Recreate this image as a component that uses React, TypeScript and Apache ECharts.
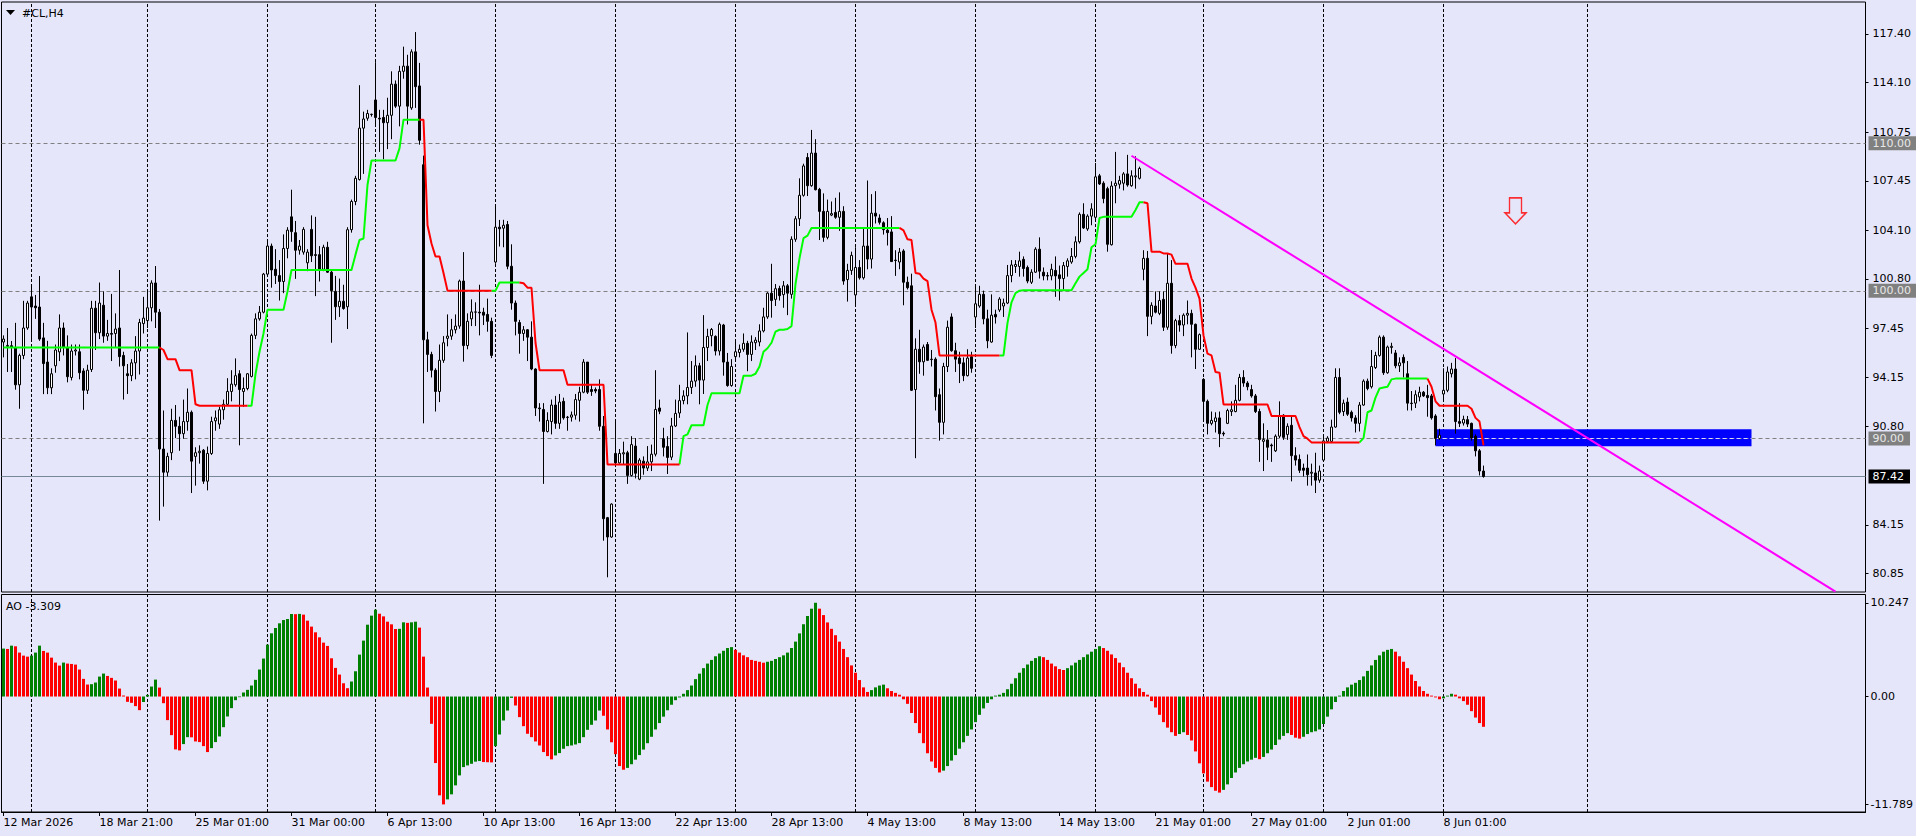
import React, { useEffect, useRef } from "react";
import * as echarts from "echarts";

const chartTitle = "#CL,H4";
const aoTitle = "AO -3.309";
const slotCount = 466;
const labelStep = 24;
const timeLabels = [
  "12 Mar 2026", "18 Mar 21:00", "25 Mar 01:00", "31 Mar 00:00", "6 Apr 13:00", "10 Apr 13:00",
  "16 Apr 13:00", "22 Apr 13:00", "28 Apr 13:00", "4 May 13:00", "8 May 13:00", "14 May 13:00",
  "21 May 01:00", "27 May 01:00", "2 Jun 01:00", "8 Jun 01:00",
];
const priceTicks = [117.4, 114.1, 110.75, 107.45, 104.1, 100.8, 97.45, 94.15, 90.8, 84.15, 80.85];
const aoTicks = [10.247, 0, -11.789];
const priceRange = [79.594, 119.566];
const aoRange = [-12.62, 11.15];
const weekLines = [7, 36, 66, 93, 123, 153, 183, 213, 243, 273, 300, 330, 360, 396];
const roundLevels = [110, 100, 90];
const bidPrice = 87.42;
const trendLine = [[282, 109.15], [458, 79.62]];
const zoneBox = [[358, 90.62], [437, 89.47]];
const arrowPoint = [378, 105.41];

// [open, close, low, high]
const candles = [
  [96.53,96.73,95.49,96.98],[96.24,96.30,94.50,97.48],[96.28,96.16,94.50,96.60],[96.16,93.63,93.30,97.83],[93.63,95.62,92.01,95.74],
  [95.62,97.48,95.37,99.32],[97.48,99.17,97.36,99.32],[99.59,98.90,96.61,100.46],[98.97,98.85,98.10,99.72],[98.90,96.73,96.61,101.00],
  [96.81,95.07,93.00,97.83],[95.17,93.43,93.00,96.61],[93.43,94.38,93.00,94.75],[94.92,95.99,94.45,96.36],[95.86,97.48,95.24,98.40],
  [97.48,96.16,95.62,97.85],[96.16,94.18,93.80,96.98],[94.13,95.92,93.93,96.36],[95.92,95.99,95.62,96.36],[95.87,94.45,94.00,96.36],
  [94.57,93.26,91.94,94.75],[93.26,94.62,93.01,94.99],[94.67,98.82,94.50,99.32],[98.82,97.16,95.99,99.32],[97.16,99.17,96.73,100.56],
  [99.02,96.93,96.48,99.96],[96.93,97.11,96.61,98.03],[97.11,97.06,95.24,99.79],[97.11,97.41,96.16,98.47],[97.48,95.54,94.87,101.41],
  [95.62,94.92,92.63,95.87],[94.38,94.25,93.01,95.04],[94.25,95.12,93.88,95.37],[95.12,95.92,94.00,96.93],[95.92,97.85,94.33,98.10],
  [97.78,98.15,97.11,99.59],[97.98,98.85,97.48,99.96],[98.85,100.53,97.93,100.71],[100.53,98.55,97.48,101.68],[98.55,89.28,84.43,98.77],
  [89.28,87.71,85.38,91.89],[87.71,88.78,87.42,89.03],[89.03,91.22,88.53,92.01],[91.22,90.82,90.02,92.26],[90.82,90.32,89.16,91.47],
  [90.32,91.14,89.98,92.63],[91.14,91.77,90.52,93.38],[91.77,88.46,86.30,91.89],[88.78,89.03,86.80,89.40],[89.03,89.13,88.29,89.53],
  [89.20,87.10,86.92,89.28],[87.10,88.98,86.48,89.45],[88.98,91.14,88.88,91.47],[91.19,91.39,90.52,91.89],[90.97,91.94,90.65,92.14],
  [91.94,92.31,91.27,92.63],[92.31,93.18,92.26,94.08],[93.18,93.68,92.51,94.62],[93.63,94.25,93.50,95.42],[94.38,93.31,89.53,94.62],
  [93.18,93.38,92.14,94.13],[93.38,94.38,93.26,94.43],
  [94.20,96.98,94.13,97.10],[96.98,98.10,96.73,98.47],[98.10,98.55,97.98,98.97],[98.55,101.13,98.47,101.21],[101.13,103.03,100.96,103.32],
  [103.03,101.41,100.21,103.20],[101.46,101.03,100.46,102.82],[101.03,100.63,99.34,102.08],[100.63,102.87,99.84,103.82],[102.87,104.11,102.20,104.31],
  [105.01,104.01,103.32,106.85],[103.94,102.75,100.81,104.73],[102.75,103.03,102.45,103.44],[102.62,104.16,102.45,104.31],[101.90,102.62,101.33,102.82],
  [104.16,102.37,101.95,105.11],[102.45,102.40,99.64,105.01],[102.45,101.46,100.63,103.03],[101.46,102.95,101.33,103.12],[102.95,101.26,101.21,103.32],
  [101.26,100.01,96.48,101.46],[99.96,98.92,98.03,101.01],[98.92,99.29,98.23,100.83],[99.29,98.80,98.72,100.41],[98.92,104.14,97.41,104.31],
  [104.14,106.05,103.94,106.18],[106.05,107.62,105.80,107.79],[107.54,111.02,107.47,113.93],[111.02,111.64,107.92,112.14],[111.69,112.01,111.52,112.26],
  [111.94,111.96,111.80,112.00],[112.93,111.74,111.27,115.49],[111.69,111.64,109.41,112.26],[111.74,111.39,108.91,112.26],[111.39,111.89,109.60,113.08],
  [111.89,114.00,110.27,114.87],[114.00,112.51,112.39,114.25],[112.51,114.87,111.14,115.24],[114.87,115.22,114.37,116.54],[115.22,112.51,111.27,115.99],
  [112.39,116.19,112.26,116.36],[116.19,113.83,112.39,117.53],[113.88,110.20,109.90,115.44],[108.54,96.68,91.02,109.16],[96.68,95.69,94.50,97.23],
  [95.69,94.62,94.13,95.87],[94.62,93.18,91.82,94.75],[93.18,95.29,92.46,96.36],[95.29,96.48,95.12,96.93],[96.78,96.93,96.24,98.40],
  [96.93,97.36,96.68,98.10],[97.36,97.61,97.11,98.40],[97.61,100.66,97.43,100.76],[100.66,96.29,95.20,102.62],[96.29,97.93,96.04,98.47],
  [98.10,98.57,97.61,99.42],[98.55,98.57,97.61,99.22],[98.55,98.50,96.98,100.41],[98.55,98.35,97.68,98.85],[98.40,97.93,97.23,99.47],
  [97.93,95.62,95.44,98.18],[101.95,104.31,101.83,105.73],
  [104.31,104.20,103.00,104.80],[104.24,104.44,102.95,104.81],[104.49,101.66,101.46,104.73],[101.66,99.17,98.72,103.15],[99.17,97.93,96.98,99.34],
  [97.85,97.11,95.74,98.03],[97.11,97.36,96.61,97.61],[97.36,96.86,95.24,97.41],[96.86,94.70,94.62,97.93],[94.70,92.06,91.52,94.75],
  [92.06,92.01,91.14,92.39],[91.96,90.47,86.92,92.39],[90.47,91.22,90.40,91.77],[91.14,92.26,90.27,92.63],[92.26,91.02,90.65,92.88],
  [91.02,92.46,90.65,93.01],[92.51,91.39,91.27,92.76],[91.44,91.42,90.52,91.52],[91.44,91.59,91.14,91.82],[91.57,92.63,91.27,93.01],
  [92.58,93.13,91.14,93.50],[93.13,95.17,93.06,95.37],[95.17,93.13,93.01,95.17],[93.31,93.18,92.88,93.63],[93.31,93.21,93.06,93.45],
  [93.31,90.82,90.52,94.00],[90.82,84.56,83.07,91.52],[84.63,83.32,80.59,84.68],[83.32,85.55,83.27,85.60],[88.98,88.34,88.09,91.14],
  [88.34,88.98,88.29,89.28],[88.95,89.03,88.24,89.78],[89.03,87.49,86.92,89.16],[87.49,89.58,87.42,90.15],[89.48,87.64,87.29,90.02],
  [87.24,88.53,87.17,88.66],[88.46,87.99,87.54,88.78],[87.99,88.41,87.79,89.48],[88.41,88.93,87.79,89.58],[88.93,91.96,88.78,94.62],
  [92.06,91.84,91.64,92.63],[89.98,89.40,88.78,90.72],[89.45,88.71,87.59,90.15],[88.73,90.84,88.53,91.39],[90.84,91.69,90.77,92.63],
  [91.72,92.56,91.39,93.63],[92.56,92.88,92.31,93.26],[92.88,93.45,92.31,97.18],[93.45,93.88,93.01,95.24],[93.88,94.92,93.50,95.62],
  [94.92,93.95,92.31,95.12],[93.95,96.16,93.01,98.35],[96.16,96.91,95.24,97.43],[96.96,97.38,96.24,97.48],[96.91,95.92,95.62,96.98],
  [95.92,97.73,95.62,97.85],[97.68,95.17,94.25,97.76],[95.17,93.58,93.50,95.79],[93.58,94.87,93.50,95.37],[95.54,95.87,95.24,96.73],
  [95.82,96.04,95.49,96.36],[96.04,96.44,95.87,97.11],[96.44,95.69,94.55,96.61],
  [95.69,96.53,95.24,96.98],[96.48,96.66,95.99,96.86],[96.53,97.28,96.24,97.73],[97.28,98.23,97.18,98.85],[98.23,99.84,98.10,99.91],
  [99.84,99.34,98.18,101.83],[99.42,100.14,98.97,100.46],[100.16,99.67,99.34,100.34],[99.74,100.34,98.85,100.66],[100.34,99.84,98.35,100.46],
  [99.76,103.49,99.47,103.69],[103.49,104.88,103.32,105.06],[104.88,106.47,104.39,107.62],[106.47,108.46,106.38,108.61],[109.03,107.12,106.42,109.33],
  [107.12,109.33,107.05,110.90],[109.33,106.85,106.80,110.27],[106.87,105.38,103.44,106.97],[105.38,103.62,103.32,106.60],[103.62,105.38,103.49,106.18],
  [105.13,105.23,105.06,106.05],[105.31,104.98,104.88,106.30],[104.98,105.38,104.06,106.67],[105.38,100.66,100.41,105.73],[100.76,101.38,99.27,101.83],
  [101.38,102.40,101.08,102.65],[99.72,101.58,99.02,102.95],[101.58,100.88,100.76,102.08],[100.88,103.03,100.76,104.24],[103.03,102.15,101.46,107.47],
  [102.15,105.26,101.51,106.55],[105.26,105.06,104.56,106.75],[104.93,104.64,104.49,105.18],[104.61,104.14,103.81,104.71],[104.11,103.94,103.07,104.93],
  [103.99,101.98,101.95,105.06],[102.08,102.05,101.01,102.75],[101.95,102.62,101.46,102.90],[102.70,100.58,99.02,102.82],[100.58,100.21,100.09,100.96],
  [100.34,93.26,93.21,101.16],[93.31,96.04,88.66,96.78],[96.04,95.19,94.38,97.36],[95.19,96.19,94.25,96.36],[96.36,95.29,95.24,96.53],
  [95.37,95.34,94.87,95.99],[95.37,92.83,91.89,95.49],[92.96,91.09,89.85,93.38],[91.09,94.87,90.27,95.12],[94.87,97.53,94.50,97.98],
  [98.23,95.94,95.87,98.47],[95.94,95.37,94.50,96.48],[95.44,95.07,93.75,95.87],[95.12,94.25,93.88,95.49],[94.25,95.44,94.20,96.04],
  [95.54,94.75,94.45,95.87],[98.23,99.12,97.48,100.34],[98.97,99.76,98.85,100.34],[99.76,98.10,97.73,100.01],[98.10,96.61,96.11,98.72],
  [96.53,98.35,96.48,99.76],[98.40,98.23,97.78,98.72],[98.70,99.44,98.57,99.57],
  [98.97,99.17,98.23,99.47],[99.17,101.03,99.10,101.75],[101.03,101.75,100.58,102.08],[101.65,101.78,101.21,102.08],[101.65,102.03,100.96,102.65],
  [102.13,101.51,100.96,102.33],[101.58,100.66,100.51,101.71],[100.58,101.26,100.46,101.46],[101.26,102.82,101.21,102.95],[102.82,101.33,100.83,103.62],
  [101.26,101.01,100.71,101.58],[101.03,101.00,100.71,101.26],[101.01,101.46,100.71,101.83],[101.38,101.01,99.59,102.33],[101.08,100.83,99.34,101.71],
  [100.83,101.71,100.09,101.95],[101.65,102.03,100.96,102.20],[101.95,102.33,101.83,102.90],[102.33,103.32,102.20,103.69],[103.32,105.18,103.20,105.31],
  [105.18,104.26,104.19,105.93],[104.19,105.06,104.06,105.18],[105.06,105.55,104.44,105.93],[104.98,107.72,104.81,108.66],[107.79,107.24,107.17,107.92],
  [107.29,106.25,105.93,107.42],[106.92,103.15,102.65,107.05],[103.12,107.10,103.07,107.42],[107.12,107.29,105.93,109.41],[107.22,107.47,106.92,107.79],
  [107.29,107.92,106.80,108.04],[107.92,107.17,107.05,109.21],[107.12,107.79,107.05,108.16],[107.72,107.79,106.92,109.11],[107.62,108.29,107.54,108.41],
  [101.46,102.20,100.71,102.75],[102.20,98.27,96.93,102.70],[98.27,99.02,97.73,99.22],[98.97,98.55,98.47,99.96],[98.47,99.34,98.35,99.96],
  [99.42,97.53,97.28,99.96],[97.53,100.51,97.36,102.55],[100.51,96.29,95.74,102.08],[96.29,97.98,96.11,98.10],[97.98,97.68,97.23,98.35],
  [97.68,98.35,96.93,98.47],[98.35,98.47,97.73,99.34],[98.47,97.73,95.49,98.72],[97.73,96.04,94.70,97.78],[96.04,97.03,95.99,97.11],
  [94.00,92.51,91.24,94.08],[92.51,91.02,90.27,92.63],[91.02,91.22,90.89,91.82],[91.14,91.39,90.40,91.77],[91.39,90.32,89.41,91.82],
  [90.35,90.30,90.15,90.47],[91.02,91.89,90.97,92.01],[91.82,91.94,91.52,92.51],[91.82,92.58,91.77,93.63],[92.58,94.13,92.51,94.37],
  [94.13,93.75,93.50,94.62],[93.75,93.50,93.26,93.88],
  [93.31,92.88,92.76,93.63],[92.88,91.82,91.72,93.01],[91.82,89.92,88.41,92.01],[89.80,89.92,87.79,91.02],[89.90,89.40,88.53,90.57],
  [89.55,89.50,88.41,89.65],[89.16,90.15,89.08,90.27],[90.15,91.52,90.02,92.51],[91.57,90.07,89.90,91.64],[90.27,90.82,89.90,91.02],
  [90.89,88.83,87.09,91.52],[88.83,88.53,88.16,89.40],[88.58,87.84,87.66,88.91],[87.99,87.84,87.42,88.29],[87.99,87.54,86.80,88.91],
  [87.64,87.71,86.80,88.29],[87.66,87.17,86.30,89.03],[87.17,87.79,86.99,88.16],[88.53,89.83,88.41,90.15],[89.80,90.02,89.68,90.15],
  [89.80,90.77,89.68,91.27],[90.77,94.13,90.72,94.75],[94.13,91.77,91.64,94.75],[91.82,92.39,91.52,92.63],[92.46,91.64,91.52,92.76],
  [91.77,91.39,91.14,91.89],[91.39,91.02,90.40,91.57],[91.02,92.26,90.47,92.46],[92.26,93.88,92.21,94.00],[93.88,93.38,93.26,94.05],
  [93.50,94.87,93.38,95.99],[94.80,95.62,94.70,95.87],[95.62,96.86,95.54,96.98],[96.86,94.45,94.30,96.98],[94.45,96.19,94.38,96.29],
  [96.16,96.24,95.74,96.48],[95.79,94.92,94.75,95.99],[94.92,95.12,94.50,95.49],[95.49,95.12,94.13,95.69],[94.38,92.39,91.89,95.24],
  [92.39,92.36,91.89,93.21],[92.39,92.96,92.06,93.26],[92.81,93.13,92.51,93.50],[93.13,92.88,92.81,93.21],[92.91,92.76,91.47,93.63],
  [92.88,91.39,91.27,93.01],[91.52,90.00,89.53,91.64],[90.00,90.22,89.90,90.65],[93.01,93.26,92.51,94.75],[93.26,94.50,93.13,94.87],
  [94.38,94.70,94.13,95.12],[94.70,91.14,90.32,95.44],[91.14,91.02,90.77,92.39],[91.04,91.29,90.87,91.54],[91.27,90.97,90.77,91.52],
  [91.02,90.02,89.85,91.07],[90.15,89.16,88.78,90.27],[89.16,87.79,87.49,89.28],[87.79,87.42,87.34,88.16],
];

const aoValues = [
  5.24,5.20,5.56,5.49,4.80,4.47,4.36,4.47,4.80,5.56,
  4.98,4.80,4.25,3.71,3.38,3.71,3.60,3.56,3.49,2.95,
  1.93,1.31,1.35,1.53,2.18,2.51,2.25,2.04,1.75,0.87,
  0.11,-0.58,-0.69,-1.05,-1.49,-0.60,0.18,1.09,1.85,0.98,
  -0.73,-2.58,-4.22,-5.78,-5.89,-5.20,-4.44,-4.46,-4.91,-4.98,
  -5.42,-6.07,-5.64,-4.98,-4.36,-3.35,-2.18,-1.27,-0.40,-0.07,
  0.44,0.73,1.20,1.82,2.95,4.15,5.67,6.91,7.49,8.00,
  8.36,8.47,9.02,9.00,9.03,8.95,8.29,7.64,7.02,6.47,
  5.89,5.53,4.18,3.13,2.40,1.45,0.91,1.64,2.76,4.58,
  6.11,7.85,8.84,9.49,9.05,8.76,8.18,7.89,7.38,7.40,
  8.11,8.05,8.11,8.18,7.53,4.36,0.98,-2.98,-7.27,-10.80,
  -11.79,-11.24,-10.69,-9.71,-8.62,-7.71,-7.53,-7.35,-7.12,-7.05,
  -7.16,-7.18,-7.20,-5.42,-4.15,-2.62,-1.53,-0.15,-0.98,-2.25,
  -3.24,-4.07,-4.44,-4.91,-5.35,-6.07,-6.51,-6.87,-6.44,-6.18,
  -5.71,-5.42,-5.35,-5.24,-5.09,-4.44,-3.64,-3.09,-2.62,-1.53,
  -2.10,-3.60,-5.00,-6.30,-7.60,-8.00,-7.80,-7.40,-6.90,-6.40,
  -5.80,-5.10,-4.40,-3.60,-2.90,-2.20,-1.50,-0.90,-0.40,-0.10,
  0.30,0.70,1.20,1.90,2.50,3.10,3.60,4.00,4.40,4.70,
  5.00,5.30,5.40,5.10,4.80,4.50,4.30,4.00,3.90,3.80,
  3.70,3.80,3.90,4.10,4.30,4.50,4.80,5.30,6.00,6.90,
  7.90,8.80,9.60,10.247,9.60,8.90,8.10,7.40,6.70,6.00,
  5.20,4.30,3.40,2.60,1.80,1.00,0.50,0.70,1.00,1.20,
  1.30,0.90,0.60,0.40,0.20,-0.30,-0.80,-1.80,-2.90,-4.00,
  -5.10,-6.20,-7.10,-7.80,-8.30,-8.10,-7.60,-7.00,-6.40,-5.70,
  -5.00,-4.30,-3.60,-2.80,-2.00,-1.30,-0.70,-0.30,0.10,0.20,
  0.40,0.80,1.40,2.00,2.60,3.10,3.50,3.90,4.20,4.40,
  4.30,4.00,3.60,3.30,3.00,2.90,3.10,3.40,3.70,4.00,
  4.30,4.60,4.90,5.20,5.50,5.30,5.00,4.60,4.20,3.70,
  3.20,2.60,2.00,1.40,0.90,0.50,0.20,-0.50,-1.20,-2.00,
  -2.80,-3.40,-3.90,-4.30,-4.10,-3.90,-4.20,-4.80,-6.00,-7.30,
  -8.40,-9.30,-9.90,-10.30,-10.50,-10.20,-9.60,-8.90,-8.30,-7.80,
  -7.40,-7.10,-6.90,-6.70,-6.85,-6.60,-6.20,-5.80,-5.30,-4.70,
  -4.30,-4.00,-4.20,-4.50,-4.60,-4.40,-4.10,-3.90,-3.80,-3.60,
  -3.00,-2.20,-1.40,-0.60,0.10,0.60,1.00,1.30,1.50,1.80,
  2.20,2.80,3.40,4.00,4.50,4.90,5.10,5.20,4.90,4.40,
  3.80,3.10,2.40,1.70,1.10,0.60,0.30,0.10,-0.10,-0.30,
  -0.20,0.10,0.30,0.20,-0.20,-0.50,-0.90,-1.60,-2.30,-2.90,
  -3.309,
];

// [fromBar, stop level] : level holds until the next step
const stopSteps = [
  [0,96.16],[40,95.99],[41,95.37],[44,94.62],[48,92.31],[49,92.21],[63,94.35],[64,95.87],[65,97.11],[66,98.72],
  [71,99.96],[72,101.41],[88,102.45],[89,103.44],[90,103.54],[91,107.17],[92,108.83],[99,109.65],[100,111.59],
  [106,104.44],[107,103.20],[108,102.32],[110,101.21],[111,100.01],[124,100.56],[130,100.51],[131,100.21],[133,96.48],
  [134,94.62],[141,93.63],[151,88.24],[170,90.15],[171,90.27],[172,90.89],[176,92.26],[177,93.06],[185,94.25],
  [188,94.38],[189,94.87],[190,95.87],[191,96.11],[192,96.48],[193,97.23],[194,97.36],[196,97.41],[197,97.61],
  [198,100.46],[199,102.20],[200,103.57],[201,103.74],[202,104.26],[225,104.10],[226,103.49],[227,103.44],[228,101.21],
  [229,101.16],[230,100.83],[231,100.66],[232,98.72],[233,97.85],[234,95.62],[251,97.83],[252,99.22],[253,99.84],
  [254,100.01],[255,100.04],[268,100.51],[269,100.96],[270,101.21],[271,101.46],[272,102.95],[273,103.15],[274,104.93],
  [275,105.01],[283,105.48],[284,106.00],[286,105.93],[287,102.65],[290,102.53],[292,102.45],[293,101.83],[297,100.83],
  [298,100.21],[299,99.47],[300,96.98],[301,95.74],[302,95.62],[303,94.50],[304,94.45],[305,92.30],[317,91.52],
  [324,90.77],[325,90.15],[326,89.98],[327,89.73],[340,90.02],[341,91.77],[342,91.89],[343,92.76],[344,93.38],
  [345,93.45],[346,93.50],[347,94.00],[348,94.05],[357,93.50],[358,92.51],[359,92.21],[367,92.01],[368,91.39],
  [369,91.14],[370,89.53],
];
const trendSwitches: [number, string][] = [
  [0, "up"], [40, "down"], [62, "up"], [105, "down"], [123, "up"], [130, "down"],
  [170, "up"], [225, "down"], [250, "up"], [286, "down"], [340, "up"], [357, "down"],
];

export default function App() {
  const ref = useRef<HTMLDivElement>(null);
  useEffect(() => {
    document.body.style.margin = "0";
    const chart = echarts.init(ref.current!, undefined, { renderer: "svg" });
    const n = candles.length;
    const categories = Array.from({ length: slotCount }, (_, i) => String(i));

    const stopLevel: number[] = [];
    let si = 0;
    for (let i = 0; i < n; i++) {
      while (si + 1 < stopSteps.length && stopSteps[si + 1][0] <= i) si++;
      stopLevel.push(stopSteps[si][1]);
    }
    const trendDir: string[] = [];
    let ti = 0;
    for (let i = 0; i < n; i++) {
      while (ti + 1 < trendSwitches.length && trendSwitches[ti + 1][0] <= i) ti++;
      trendDir.push(trendSwitches[ti][1]);
    }
    const upLine = stopLevel.map((v, i) => (trendDir[i] === "up" || trendDir[i + 1] === "up" ? v : "-"));
    const downLine = stopLevel.map((v, i) => (trendDir[i] === "down" || trendDir[i + 1] === "down" ? v : "-"));
    const aoData = aoValues.map((v, i) => ({
      value: v,
      itemStyle: { color: i === 0 || v > aoValues[i - 1] ? "#008000" : "#FF0000" },
    }));

    const labelInterval = (idx: number) => idx % labelStep === 0 && idx / labelStep < timeLabels.length;
    const font = "DejaVu Sans";

    const levelLabel = (v: number, bg: string, fg: string) => ({
      show: true,
      position: "end",
      distance: 3,
      formatter: v.toFixed(2),
      backgroundColor: bg,
      color: fg,
      padding: [1, 6, 0, 4],
      fontSize: 11,
      fontFamily: font,
      lineHeight: 13,
    });

    const option: any = {
      animation: false,
      backgroundColor: "#E6E6FA",
      textStyle: { fontFamily: font },
      grid: [
        { left: 1.5, top: 2, width: 1864, height: 590, show: true, borderColor: "#000", borderWidth: 1, backgroundColor: "transparent" },
        { left: 1.5, top: 594.5, width: 1864, height: 217.5, show: true, borderColor: "#000", borderWidth: 1, backgroundColor: "transparent" },
      ],
      xAxis: [
        {
          type: "category", gridIndex: 0, data: categories, boundaryGap: true,
          axisLine: { show: false, onZero: false }, axisTick: { show: false }, axisLabel: { show: false }, splitLine: { show: false },
        },
        {
          type: "category", gridIndex: 1, data: categories, boundaryGap: true, position: "bottom",
          axisLine: { show: true, onZero: false, lineStyle: { color: "#000", width: 1 } },
          axisTick: { show: true, alignWithLabel: true, interval: labelInterval, length: 4, lineStyle: { color: "#000" } },
          axisLabel: {
            show: true, interval: labelInterval, align: "left", margin: 5, fontSize: 11, color: "#000", fontFamily: font,
            formatter: (value: string) => timeLabels[Number(value) / labelStep] ?? "",
          },
          splitLine: { show: false },
        },
      ],
      yAxis: [
        {
          type: "value", gridIndex: 0, position: "right", min: priceRange[0], max: priceRange[1],
          splitLine: { show: false }, axisLine: { show: false },
          axisTick: { show: true, customValues: priceTicks, length: 3, lineStyle: { color: "#000" } },
          axisLabel: { customValues: priceTicks, formatter: (v: number) => v.toFixed(2), margin: 7, fontSize: 11, color: "#000", fontFamily: font },
        },
        {
          type: "value", gridIndex: 1, position: "right", min: aoRange[0], max: aoRange[1],
          splitLine: { show: false }, axisLine: { show: false },
          axisTick: { show: true, customValues: aoTicks, length: 3, lineStyle: { color: "#000" } },
          axisLabel: {
            customValues: aoTicks, formatter: (v: number) => (v === 0 ? "0.00" : String(v)),
            margin: 5, fontSize: 11, color: "#000", fontFamily: font,
          },
        },
      ],
      series: [
        {
          type: "line", xAxisIndex: 0, yAxisIndex: 0, data: [], silent: true,
          markLine: {
            silent: true, symbol: ["none", "none"], z: 0.5, label: { show: false },
            lineStyle: { color: "#000", type: [3, 2], width: 1 },
            data: weekLines.map((b) => ({ xAxis: b })),
          },
        },
        {
          type: "line", xAxisIndex: 1, yAxisIndex: 1, data: [], silent: true,
          markLine: {
            silent: true, symbol: ["none", "none"], z: 0.5, label: { show: false },
            lineStyle: { color: "#000", type: [3, 2], width: 1 },
            data: weekLines.map((b) => ({ xAxis: b })),
          },
        },
        {
          type: "line", xAxisIndex: 0, yAxisIndex: 0, data: [], silent: true,
          markArea: {
            silent: true, z: 1,
            itemStyle: { color: "#0000FF", opacity: 1 },
            data: [[{ coord: zoneBox[0] }, { coord: zoneBox[1] }]],
          },
        },
        {
          type: "line", xAxisIndex: 0, yAxisIndex: 0, data: [], silent: true,
          markLine: {
            silent: true, symbol: ["none", "none"], z: 1.2,
            lineStyle: { color: "#808080", type: [4, 3], width: 1 },
            data: [
              ...roundLevels.map((v) => ({ yAxis: v, label: levelLabel(v, "#808080", "#E8E8E8") })),
              { yAxis: bidPrice, lineStyle: { color: "#778899", type: "solid", width: 1 }, label: levelLabel(bidPrice, "#000000", "#FFFFFF") },
            ],
          },
        },
        {
          type: "line", xAxisIndex: 0, yAxisIndex: 0, data: [], silent: true,
          markLine: {
            silent: true, symbol: ["none", "none"], z: 1.6, label: { show: false },
            lineStyle: { color: "#D8D8FF", type: [4, 3], width: 1 },
            data: [[{ coord: [zoneBox[0][0], 90] }, { coord: [zoneBox[1][0], 90] }]],
          },
        },
        {
          type: "candlestick", xAxisIndex: 0, yAxisIndex: 0, data: candles, barWidth: 2, z: 2, silent: true,
          itemStyle: { color: "#FFFFFF", color0: "#000000", borderColor: "#000000", borderColor0: "#000000", borderWidth: 1 },
        },
        {
          type: "line", xAxisIndex: 0, yAxisIndex: 0, data: upLine, symbol: "none", z: 3, silent: true,
          lineStyle: { color: "#00FF00", width: 2 }, connectNulls: false,
        },
        {
          type: "line", xAxisIndex: 0, yAxisIndex: 0, data: downLine, symbol: "none", z: 3, silent: true,
          lineStyle: { color: "#FF0000", width: 2 }, connectNulls: false,
        },
        {
          type: "line", xAxisIndex: 0, yAxisIndex: 0, data: [], silent: true,
          markLine: {
            silent: true, symbol: ["none", "none"], z: 4, label: { show: false },
            lineStyle: { color: "#FF00FF", type: "solid", width: 2 },
            data: [[{ coord: trendLine[0] }, { coord: trendLine[1] }]],
          },
        },
        {
          type: "scatter", xAxisIndex: 0, yAxisIndex: 0, data: [arrowPoint], z: 4, silent: true,
          symbol: "path://M4.5 0 L16.5 0 L16.5 15 L21 15 L10.5 26 L0 15 L4.5 15 Z",
          symbolSize: [21, 26],
          itemStyle: { color: "rgba(0,0,0,0)", borderColor: "#FF0000", borderWidth: 1.5 },
        },
        {
          type: "bar", xAxisIndex: 1, yAxisIndex: 1, data: aoData, barWidth: 3, z: 2, silent: true,
        },
      ],
      graphic: [
        { type: "polygon", shape: { points: [[6, 10], [15, 10], [10.5, 15]] }, style: { fill: "#000" }, silent: true },
        { type: "text", x: 22, y: 13, style: { text: chartTitle, font: `11px "${font}"`, fill: "#000", verticalAlign: "middle" }, silent: true },
        { type: "text", x: 6, y: 606, style: { text: aoTitle, font: `11px "${font}"`, fill: "#000", verticalAlign: "middle" }, silent: true },
      ],
    };
    chart.setOption(option);
    return () => chart.dispose();
  }, []);
  return <div ref={ref} style={{ position: "fixed", left: 0, top: 0, width: 1916, height: 836 }} />;
}
